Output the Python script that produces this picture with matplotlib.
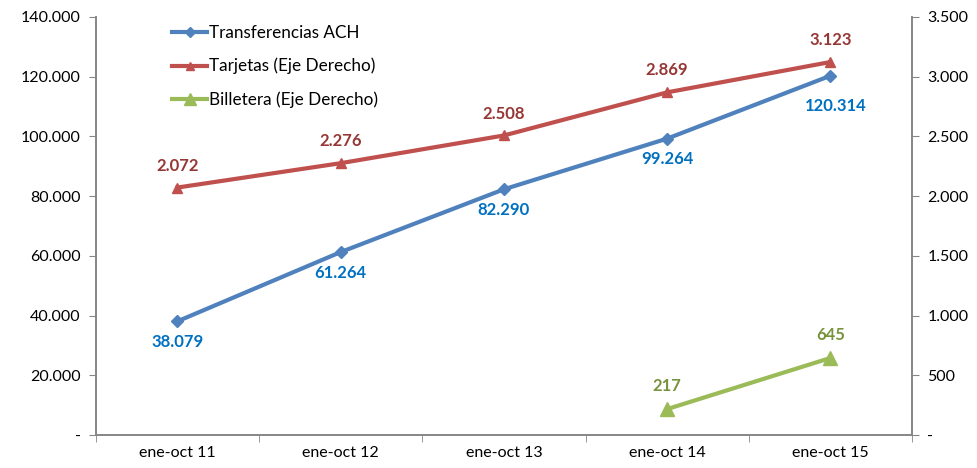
import matplotlib.pyplot as plt
import numpy as np

categories = ['ene-oct 11', 'ene-oct 12', 'ene-oct 13', 'ene-oct 14', 'ene-oct 15']
ach = [38079, 61264, 82290, 99264, 120314]
tarjetas = [2072, 2276, 2508, 2869, 3123]
billetera = [None, None, None, 217, 645]

left_ticks = [0, 20000, 40000, 60000, 80000, 100000, 120000, 140000]
right_ticks = [0, 500, 1000, 1500, 2000, 2500, 3000, 3500]

BLUE = '#4F81BD'
RED = '#C0504D'
GREEN = '#9BBB59'
AXIS_GRAY = '#868686'

plt.rcParams['font.family'] = ['Lato', 'DejaVu Sans']


def fmt(v):
    if v == 0:
        return '-'
    return f'{v:,.0f}'.replace(',', '.')


fig = plt.figure(figsize=(9.78, 4.68), dpi=100)
ax = fig.add_axes([0.098, 0.0705, 0.8345, 0.8932])
ax2 = ax.twinx()

x = np.arange(len(categories))

ax.plot(x, ach, color=BLUE, lw=3, marker='D', ms=6, label='Transferencias ACH', zorder=3)
l2, = ax2.plot(x, tarjetas, color=RED, lw=3, marker='^', ms=7, label='Tarjetas (Eje Derecho)')
bx = [i for i, v in enumerate(billetera) if v is not None]
bv = [v for v in billetera if v is not None]
l3, = ax2.plot(bx, bv, color=GREEN, lw=3, marker='^', ms=10, label='Billetera (Eje Derecho)')

ax.set_xlim(-0.5, len(categories) - 0.5)
ax.set_ylim(0, 140000)
ax2.set_ylim(0, 3500)

ax.set_yticks(left_ticks)
ax.set_yticklabels([fmt(v) for v in left_ticks])
ax2.set_yticks(right_ticks)
ax2.set_yticklabels([fmt(v) for v in right_ticks])

ax.set_xticks(x)
ax.set_xticklabels(categories)
ax.set_xticks(np.arange(-0.5, len(categories)), minor=True)
ax.tick_params(axis='x', which='major', length=0, labelsize=11.5, pad=8)
ax.tick_params(axis='x', which='minor', length=5, color=AXIS_GRAY, direction='out')
ax.tick_params(axis='y', length=5, color=AXIS_GRAY, labelsize=11.5, pad=6)
ax2.tick_params(axis='y', length=5, color=AXIS_GRAY, labelsize=11.5, pad=6)

for a in (ax, ax2):
    a.spines['top'].set_visible(False)
    for s in ('left', 'right', 'bottom'):
        a.spines[s].set_color(AXIS_GRAY)
        a.spines[s].set_linewidth(1.2)

# data labels
for i, v in enumerate(ach):
    if i == len(ach) - 1:
        ax.annotate(fmt(v), (i, v), xytext=(4, -16), textcoords='offset points',
                    ha='center', va='top', color='#0070C0', fontsize=12, fontweight='bold')
    else:
        ax.annotate(fmt(v), (i, v), xytext=(0, -9), textcoords='offset points',
                    ha='center', va='top', color='#0070C0', fontsize=12, fontweight='bold')
for i, v in enumerate(tarjetas):
    ax2.annotate(fmt(v), (i, v), xytext=(0, 10), textcoords='offset points',
                 ha='center', va='bottom', color='#953735', fontsize=12, fontweight='bold')
for i, v in zip(bx, bv):
    ax2.annotate(fmt(v), (i, v), xytext=(0, 11), textcoords='offset points',
                 ha='center', va='bottom', color='#77933C', fontsize=12, fontweight='bold')

h1, lab1 = ax.get_legend_handles_labels()
leg = ax2.legend(h1 + [l2, l3], lab1 + [l2.get_label(), l3.get_label()],
                 loc='upper left', bbox_to_anchor=(0.075, 1.018), frameon=False,
                 fontsize=12.3, handlelength=2.0, handletextpad=0.15, labelspacing=1.0,
                 markerscale=0.8)

fig.savefig('out.png', dpi=100)
